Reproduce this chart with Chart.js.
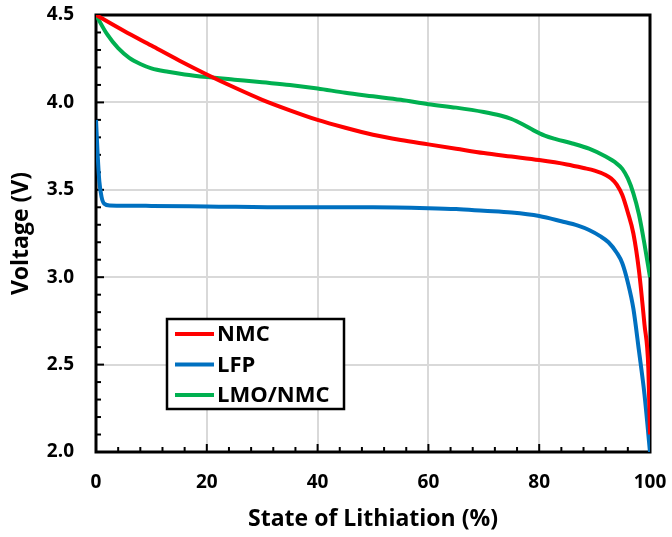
<!DOCTYPE html>
<html>
<head>
<meta charset="utf-8">
<script src="https://cdn.jsdelivr.net/npm/chart.js@4.4.1/dist/chart.umd.min.js"></script>
<style>
    body { margin: 0; background: #fff; }
</style>
</head>
<body>
<canvas id="voltageChart" width="672" height="537"></canvas>
<script>
// State of lithiation (%) and voltage (V) for each cathode
const nmcSoc = [0, 5, 10, 15, 20, 25, 30, 35, 40, 45, 50, 55, 60, 65, 70, 75, 80, 85, 88, 90, 92, 93, 94, 95, 96, 97, 98, 99, 99.7, 100];
const nmcVolt = [4.50, 4.41, 4.325, 4.24, 4.16, 4.085, 4.015, 3.955, 3.90, 3.855, 3.815, 3.785, 3.76, 3.735, 3.71, 3.69, 3.67, 3.645, 3.625, 3.61, 3.585, 3.565, 3.53, 3.47, 3.37, 3.25, 3.04, 2.73, 2.48, 2.10];

const lfpSoc = [0, 0.3, 0.6, 1, 1.5, 2.5, 10, 20, 35, 50, 60, 65, 70, 75, 80, 84, 87, 89, 91, 92.5, 94, 95, 96, 97, 98, 99, 100];
const lfpVolt = [3.90, 3.70, 3.55, 3.46, 3.42, 3.41, 3.408, 3.405, 3.40, 3.40, 3.395, 3.39, 3.38, 3.37, 3.35, 3.32, 3.295, 3.27, 3.235, 3.20, 3.14, 3.08, 2.97, 2.82, 2.58, 2.33, 2.00];

const lmoSoc = [0, 2, 4, 6, 8, 10, 13, 16, 20, 25, 30, 35, 40, 45, 50, 55, 60, 65, 70, 73, 75, 77, 79, 81, 83, 86, 89, 92, 94, 95, 96, 97, 98, 99, 100];
const lmoVolt = [4.50, 4.39, 4.31, 4.255, 4.22, 4.195, 4.175, 4.16, 4.145, 4.13, 4.115, 4.10, 4.08, 4.055, 4.035, 4.015, 3.99, 3.97, 3.945, 3.925, 3.905, 3.875, 3.84, 3.81, 3.79, 3.765, 3.735, 3.69, 3.65, 3.62, 3.565, 3.48, 3.36, 3.19, 3.00];

const seriesNames = ['NMC', 'LFP', 'LMO/NMC'];
const seriesColors = ['#FF0000', '#0070C0', '#00B050'];
const xTitle = 'State of Lithiation (%)';
const yTitle = 'Voltage (V)';

const fontFamily = '"Open Sans", Lato, sans-serif';

function toPoints(xs, ys) {
    return xs.map((x, i) => ({ x: x, y: ys[i] }));
}

// Tick labels should not push the plot area around
function noScalePadding(scale) {
    scale.paddingTop = 0;
    scale.paddingBottom = 0;
    scale.paddingLeft = 0;
    scale.paddingRight = 0;
}

// Frame, inward minor ticks, x title and the boxed legend
const decorations = {
    id: 'decorations',
    beforeDatasetsDraw(chart) {
        const ctx = chart.ctx;
        const area = chart.chartArea;
        const xs = chart.scales.x;
        const ys = chart.scales.y;
        ctx.save();
        ctx.strokeStyle = '#000';
        ctx.lineWidth = 2;
        for (let v = 0; v <= 100; v += 4) {
            const px = xs.getPixelForValue(v);
            const len = v % 20 === 0 ? 8 : 5;
            ctx.beginPath();
            ctx.moveTo(px, area.bottom);
            ctx.lineTo(px, area.bottom - len);
            ctx.stroke();
        }
        for (let i = 0; i <= 25; i++) {
            const py = ys.getPixelForValue(2 + i * 0.1);
            const len = i % 5 === 0 ? 8 : 5;
            ctx.beginPath();
            ctx.moveTo(area.left, py);
            ctx.lineTo(area.left + len, py);
            ctx.stroke();
        }
        ctx.lineWidth = 3;
        ctx.strokeRect(area.left, area.top, area.right - area.left, area.bottom - area.top);

        // x axis title
        ctx.fillStyle = '#000';
        ctx.font = 'bold 23px ' + fontFamily;
        ctx.textAlign = 'center';
        ctx.textBaseline = 'middle';
        ctx.fillText(xTitle, (area.left + area.right) / 2, chart.height - 18);
        ctx.restore();
    },
    afterDatasetsDraw(chart) {
        const ctx = chart.ctx;
        const box = { left: 167, top: 319, width: 177, height: 90 };
        ctx.save();
        ctx.fillStyle = '#fff';
        ctx.fillRect(box.left, box.top, box.width, box.height);
        ctx.strokeStyle = '#000';
        ctx.lineWidth = 2.5;
        ctx.strokeRect(box.left, box.top, box.width, box.height);
        ctx.font = 'bold 22px ' + fontFamily;
        ctx.textBaseline = 'middle';
        chart.data.datasets.forEach((ds, i) => {
            const y = box.top + 15 + i * 30.5;
            ctx.strokeStyle = ds.borderColor;
            ctx.lineWidth = 4;
            ctx.beginPath();
            ctx.moveTo(box.left + 8, y);
            ctx.lineTo(box.left + 47, y);
            ctx.stroke();
            ctx.fillStyle = '#000';
            ctx.fillText(ds.label, box.left + 50, y + 1);
        });
        ctx.restore();
    }
};

const ctx = document.getElementById('voltageChart').getContext('2d');
const chart = new Chart(ctx, {
    type: 'line',
    data: {
        datasets: [
            { label: seriesNames[0], data: toPoints(nmcSoc, nmcVolt), borderColor: seriesColors[0] },
            { label: seriesNames[1], data: toPoints(lfpSoc, lfpVolt), borderColor: seriesColors[1] },
            { label: seriesNames[2], data: toPoints(lmoSoc, lmoVolt), borderColor: seriesColors[2] }
        ]
    },
    options: {
        responsive: false,
        animation: false,
        layout: { padding: { top: 15, right: 22, left: 0, bottom: 0 } },
        elements: {
            line: { borderWidth: 4, cubicInterpolationMode: 'monotone', fill: false },
            point: { radius: 0 }
        },
        plugins: {
            legend: { display: false },
            tooltip: { enabled: false }
        },
        scales: {
            x: {
                type: 'linear',
                min: 0,
                max: 100,
                afterFit: function (scale) { scale.height = 85; noScalePadding(scale); },
                grid: { color: '#d9d9d9', lineWidth: 2, drawTicks: false },
                border: { display: false },
                ticks: {
                    stepSize: 20,
                    padding: 19,
                    color: '#000',
                    font: { family: fontFamily, size: 19, weight: 'bold' }
                },
                title: { display: false }
            },
            y: {
                min: 2.0,
                max: 4.5,
                afterFit: function (scale) { scale.width = 96; noScalePadding(scale); },
                grid: { color: '#d9d9d9', lineWidth: 2, drawTicks: false },
                border: { display: false },
                ticks: {
                    stepSize: 0.5,
                    padding: 22,
                    color: '#000',
                    font: { family: fontFamily, size: 19, weight: 'bold' },
                    callback: function (value) { return value.toFixed(1); }
                },
                title: {
                    display: true,
                    text: yTitle,
                    color: '#000',
                    font: { family: fontFamily, size: 23, weight: 'bold' },
                    padding: { top: 8, bottom: 0 }
                }
            }
        }
    },
    plugins: [decorations]
});
</script>
</body>
</html>
